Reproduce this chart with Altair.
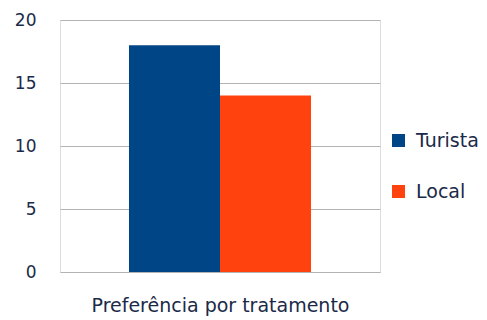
import altair as alt
import pandas as pd

series = ["Turista", "Local"]
values = [18, 14]
colors = ["#004586", "#ff420e"]
y_ticks = [0, 5, 10, 15, 20]
x_title = "Preferência por tratamento"

df = pd.DataFrame({"serie": series, "valor": values})

text_color = "#1a2a48"
font = "DejaVu Sans"

chart = alt.Chart(df).mark_bar().encode(
    x=alt.X("serie:N", sort=series,
            scale=alt.Scale(paddingInner=0, paddingOuter=0.758),
            axis=alt.Axis(title=x_title, labels=False, ticks=False, domain=False,
                          titleFont=font, titleFontSize=19, titleFontWeight="normal",
                          titleColor=text_color, titlePadding=24)),
    y=alt.Y("valor:Q", scale=alt.Scale(domain=[0, 20], nice=False),
            axis=alt.Axis(title=None, values=y_ticks, ticks=False, domain=False,
                          labelFont=font, labelFontSize=17, labelColor=text_color,
                          labelPadding=24, gridColor="#b3b3b3", gridWidth=1)),
    color=alt.Color("serie:N", sort=series,
                    scale=alt.Scale(domain=series, range=colors),
                    legend=alt.Legend(title=None, orient="none", legendX=329, legendY=111,
                                      symbolType="square", symbolSize=169,
                                      symbolStrokeWidth=0, symbolOpacity=1,
                                      labelFont=font, labelFontSize=19,
                                      labelColor=text_color, labelOffset=8,
                                      rowPadding=31)),
).properties(
    width=320, height=252,
    autosize=alt.AutoSizeParams(type="none"),
    padding={"left": 60, "top": 20, "right": 107, "bottom": 48},
).configure_view(
    stroke="#b3b3b3", strokeWidth=1.5
).configure(background="white")

chart.save("out.html", embed_options={"renderer": "svg", "actions": False})
